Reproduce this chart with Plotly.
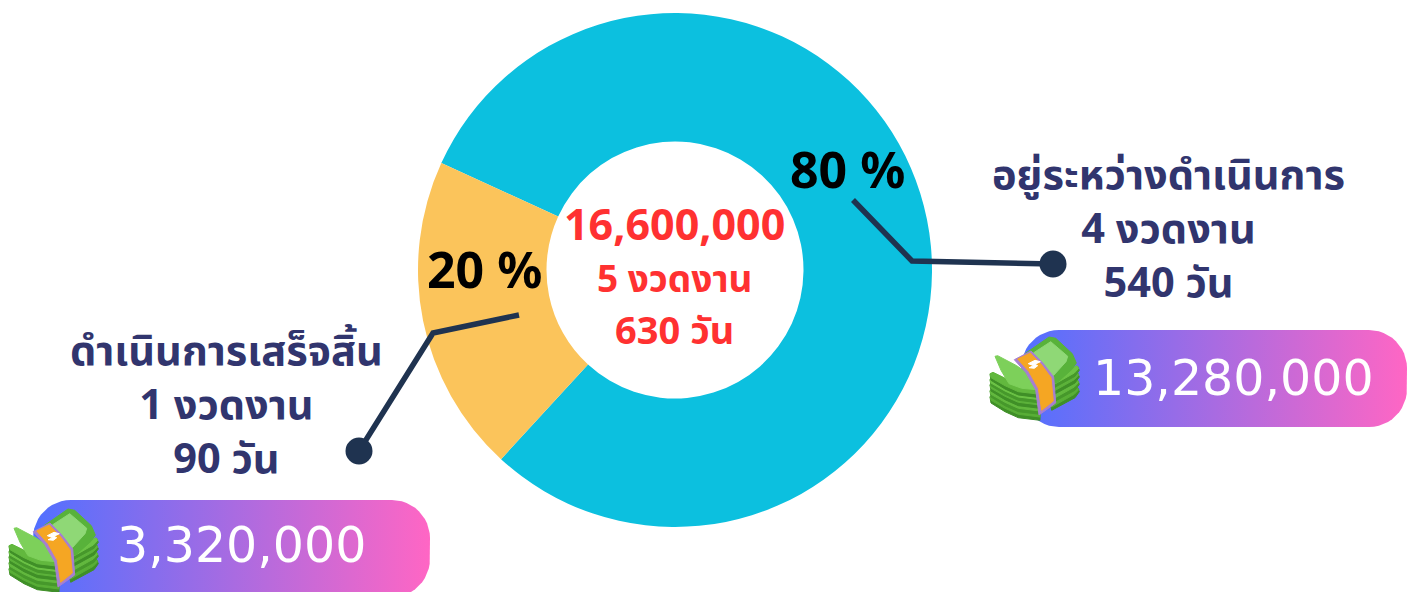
import math
import plotly.graph_objects as go

# สัดส่วนงบประมาณ
labels = ["อยู่ระหว่างดำเนินการ", "ดำเนินการเสร็จสิ้น"]
values = [80, 20]
pct_text = ["80 %", "20 %"]
slice_colors = ["#0CC0DF", "#FBC45B"]

center_lines = ["16,600,000", "5 งวดงาน", "630 วัน"]
right_lines = ["อยู่ระหว่างดำเนินการ", "4 งวดงาน", "540 วัน"]
left_lines = ["ดำเนินการเสร็จสิ้น", "1 งวดงาน", "90 วัน"]
right_amount = "13,280,000"
left_amount = "3,320,000"

W, H = 1412, 592
CX, CY, R = 675, 270, 257
NAVY = "#31356E"
LINE = "#1F3350"
RED = "#FF3131"
THAI = "'Noto Sans Thai', 'Noto Sans', 'Open Sans', sans-serif"
LATIN = "'Noto Sans', sans-serif"


def pill_trace(x0, x1, y0, y1, r):
    # rounded rectangle filled with a left to right gradient
    xs, ys = [], []
    corners = [(x1 - r, y0 + r, -90), (x1 - r, y1 - r, 0), (x0 + r, y1 - r, 90), (x0 + r, y0 + r, 180)]
    for cx, cy, a0 in corners:
        for i in range(13):
            a = math.radians(a0 + 90 * i / 12)
            xs.append(cx + r * math.cos(a))
            ys.append(cy + r * math.sin(a))
    xs.append(xs[0])
    ys.append(ys[0])
    return go.Scatter(
        x=xs, y=ys, mode="lines", line=dict(width=0), fill="toself",
        fillgradient=dict(type="horizontal", colorscale=[[0, "#5170FF"], [1, "#FF66C4"]]),
        hoverinfo="skip", showlegend=False,
    )


def poly(points, dx, dy, color):
    # points are given at 3x, the icon is drawn at 1x
    d = "M" + " L".join(f"{dx + x / 3:.1f},{dy + y / 3:.1f}" for x, y in points) + " Z"
    return dict(type="path", path=d, fillcolor=color, layer="above",
                line=dict(color=color, width=1), xref="x", yref="y")


def money_icon(dx, dy):
    out = []
    # left half of the stack, bottom sheet first
    for k, c, e in [(64, "#58AE36", "#3F8F27"), (46, "#62B83E", "#46982B"), (28, "#5CB23A", "#3F8F27"),
                    (12, "#6CC346", "#46982B"), (-4, "#62B83E", "#3F8F27")]:
        out.append(poly([(15, 128 + k), (24, 124 + k), (90, 158 + k), (165, 178 + k),
                         (165, 198 + k), (100, 190 + k), (60, 172 + k), (18, 146 + k)], dx, dy, e))
        out.append(poly([(15, 126 + k), (24, 122 + k), (90, 154 + k), (165, 172 + k),
                         (165, 188 + k), (100, 180 + k), (60, 162 + k), (18, 138 + k)], dx, dy, c))
    # right half of the stack
    for k, c, e in [(72, "#58AE36", "#3F8F27"), (50, "#62B83E", "#46982B"), (28, "#5CB23A", "#3F8F27"),
                    (8, "#6CC346", "#46982B")]:
        out.append(poly([(195, 132 + k), (278, 92 + k), (283, 104 + k), (270, 122 + k), (200, 160 + k)], dx, dy, e))
        out.append(poly([(195, 128 + k), (276, 90 + k), (281, 98 + k), (268, 112 + k), (200, 150 + k)], dx, dy, c))
    # back sheet with the light face
    out.append(poly([(120, 62), (192, 12), (212, 16), (262, 62), (274, 90), (262, 108),
                     (215, 150), (180, 150)], dx, dy, "#58B23A"))
    out.append(poly([(145, 60), (197, 26), (248, 70), (243, 86), (205, 128), (175, 108)], dx, dy, "#8FD876"))
    # front flap folded over on the left
    out.append(poly([(30, 70), (38, 68), (95, 98), (115, 112), (130, 122), (155, 170), (110, 166),
                     (72, 152), (48, 112)], dx, dy, "#7DD05A"))
    # paper band, purple under orange
    out.append(poly([(88, 80), (138, 54), (172, 88), (206, 132), (212, 210), (162, 246),
                     (152, 170), (122, 118)], dx, dy, "#A77FD0"))
    out.append(poly([(98, 78), (136, 60), (170, 96), (198, 134), (205, 204), (170, 232),
                     (160, 166), (132, 116)], dx, dy, "#F5A623"))
    # dollar mark
    out.append(poly([(130, 92), (150, 82), (166, 86), (150, 94), (158, 98), (148, 106),
                     (132, 104), (146, 98)], dx, dy, "#FFFFFF"))
    return out


def connector(points):
    d = "M" + " L".join(f"{x},{y}" for x, y in points)
    return dict(type="path", path=d, line=dict(color=LINE, width=5.5), layer="above", xref="x", yref="y")


def dot(x, y, r=13.5):
    return dict(type="circle", x0=x - r, x1=x + r, y0=y - r, y1=y + r, fillcolor=LINE,
                line=dict(width=0), layer="above", xref="x", yref="y")


def note(x, y, text, size, color, family=THAI, weight="bold"):
    return dict(x=x, y=y, text=text, showarrow=False, xref="x", yref="y",
                xanchor="center", yanchor="middle",
                font=dict(family=family, size=size, color=color, weight=weight))


def sized(text, size):
    return f'<span style="font-size:{size}px">{text}</span>'


fig = go.Figure()
fig.add_trace(pill_trace(1021, 1407, 330, 427, 38))
fig.add_trace(pill_trace(33, 430, 500, 597, 38))
fig.add_trace(go.Pie(
    labels=labels, values=values, hole=0.5, sort=False, direction="clockwise",
    rotation=294.6, textinfo="none", marker=dict(colors=slice_colors, line=dict(width=0)),
    domain=dict(x=[(CX - R) / W, (CX + R) / W], y=[(H - CY - R) / H, (H - CY + R) / H]),
    showlegend=False,
))

shapes = [
    connector([(853, 200), (912, 261), (1053, 264)]),
    connector([(519, 315), (433, 333), (359, 451)]),
    dot(1053, 264),
    dot(359, 451),
]
shapes += money_icon(985, 333) + money_icon(4, 505)

center_text = "<br>".join(sized(t, s) for t, s in zip(center_lines, [43, 37, 38]))
annotations = [
    note(847, 169, pct_text[0], 50, "#000000", LATIN),
    note(484, 269, pct_text[1], 50, "#000000", LATIN),
    note(674, 277, center_text, 40, RED),
    note(1168, 230, "<br>".join(right_lines), 41.5, NAVY),
    note(226, 406, "<br>".join(left_lines), 41.5, NAVY),
    note(1233, 378, right_amount, 49, "#FFFFFF", "'DejaVu Sans', sans-serif", "normal"),
    note(241, 545, left_amount, 49, "#FFFFFF", "'DejaVu Sans', sans-serif", "normal"),
]

fig.update_layout(
    width=W, height=H, margin=dict(l=0, r=0, t=0, b=0),
    paper_bgcolor="white", plot_bgcolor="white", showlegend=False,
    xaxis=dict(range=[0, W], visible=False, fixedrange=True),
    yaxis=dict(range=[H, 0], visible=False, fixedrange=True),
    shapes=shapes, annotations=annotations,
)
fig.write_html("out.html", config=dict(displayModeBar=False),
               post_script="document.body.style.margin='0';")
